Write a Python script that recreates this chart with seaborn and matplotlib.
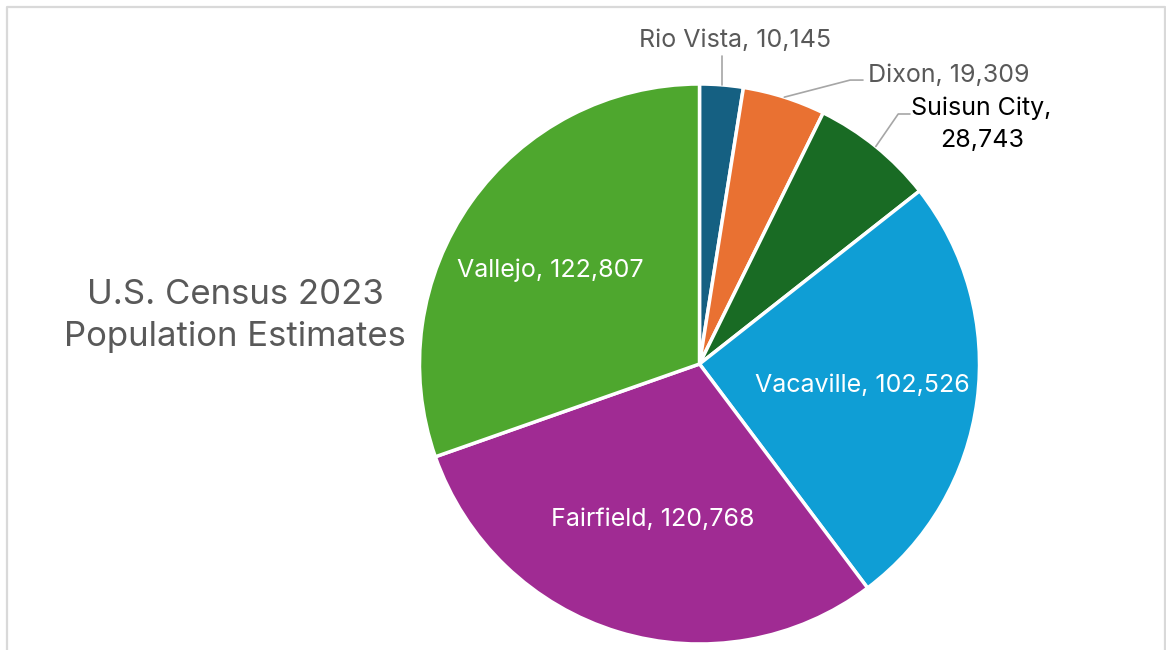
import numpy as np
import matplotlib
matplotlib.use("Agg")
import matplotlib.pyplot as plt
import seaborn as sns

cities = ["Rio Vista", "Dixon", "Suisun City", "Vacaville", "Fairfield", "Vallejo"]
population = [10145, 19309, 28743, 102526, 120768, 122807]
colors = ["#156082", "#E97132", "#196B24", "#0F9ED5", "#A02B93", "#4EA72E"]
title_lines = ["U.S. Census 2023", "Population Estimates"]

sns.set_theme(style="white")
plt.rcParams['font.family'] = ['Inter', 'DejaVu Sans']

W, H = 1166, 650
fig = plt.figure(figsize=(W / 100, H / 100), dpi=100)
fig.patch.set_facecolor("white")

# chart frame (light gray)
frame = fig.add_axes([0, 0, 1, 1], facecolor="none")
frame.set_xlim(0, W); frame.set_ylim(H, 0); frame.axis("off")
frame.plot([6.5, 6.5, 1164.5, 1164.5], [H + 5, 6.5, 6.5, H + 5], color="#d9d9d9", lw=1.6)

# pie axes
cx, cy, r = 699.5, 364, 280
ax = fig.add_axes([(cx - r) / W, (H - cy - r) / H, 2 * r / W, 2 * r / H])
wedges, _ = ax.pie(population, colors=colors, startangle=90, counterclock=False,
                   radius=1, wedgeprops=dict(edgecolor="white", linewidth=2.5))
ax.set_xlim(-1, 1); ax.set_ylim(-1, 1); ax.set_aspect("equal")
ax.axis("off")

total = sum(population)
fracs = np.array(population) / total
starts = np.concatenate([[0], np.cumsum(fracs)[:-1]])
mids = (starts + fracs / 2) * 2 * np.pi  # clockwise from top

def pt(theta, rad):
    return rad * np.sin(theta), rad * np.cos(theta)

def fmt(v):
    return f"{v:,}"

fs = 18
# inside labels (distance, angle tweak in radians)
inner = {3: (0.585, 0.0), 4: (0.58, 0.0), 5: (0.63, -0.055)}
for i, (d, da) in inner.items():
    x, y = pt(mids[i] + da, d)
    ax.text(x, y, f"{cities[i]}, {fmt(population[i])}", color="white",
            ha="center", va="center", fontsize=fs)

gray = "#595959"
lc = "#a6a6a6"
# Rio Vista
x0, y0 = pt(mids[0], 1.0)
ax.plot([x0, x0], [y0, y0 + 0.104], color=lc, lw=1.2, clip_on=False)
ax.text(x0 + 0.048, y0 + 0.135, f"{cities[0]}, {fmt(population[0])}", color=gray,
        ha="center", va="baseline", fontsize=fs)
# Dixon
x0, y0 = pt(mids[1], 1.0)
ax.plot([x0, x0 + 0.235, x0 + 0.281], [y0, y0 + 0.061, y0 + 0.061], color=lc, lw=1.2, clip_on=False)
ax.text(x0 + 0.300, y0 + 0.054, f"{cities[1]}, {fmt(population[1])}", color=gray,
        ha="left", va="baseline", fontsize=fs)
# Suisun City
x0, y0 = pt(mids[2], 1.0)
ax.plot([x0, x0 + 0.080, x0 + 0.122], [y0, y0 + 0.116, y0 + 0.116], color=lc, lw=1.2, clip_on=False)
ax.text(x0 + 0.378, y0 + 0.112, f"{cities[2]},", color="black",
        ha="center", va="baseline", fontsize=fs)
ax.text(x0 + 0.378, y0 - 0.002, fmt(population[2]), color="black",
        ha="center", va="baseline", fontsize=fs)

# title on the left
fig.text(235 / W, 1 - 304 / H, title_lines[0], color=gray, ha="center",
         va="baseline", fontsize=25)
fig.text(235 / W, 1 - 346 / H, title_lines[1], color=gray, ha="center",
         va="baseline", fontsize=25)

fig.savefig("out.png", dpi=100, facecolor="white")
